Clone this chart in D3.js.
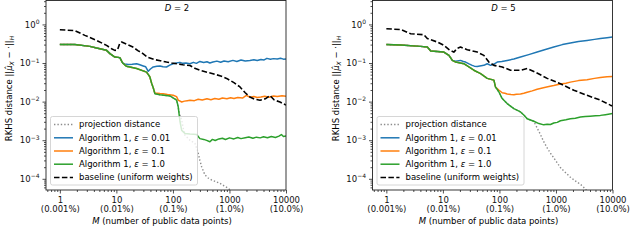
<!DOCTYPE html>
<html>
<head>
<meta charset="utf-8">
<script src="https://cdn.jsdelivr.net/npm/d3@7"></script>
<style>
  body { margin: 0; background: #fff; }
  svg { display: block; font-family: 'DejaVu Sans', sans-serif; }
</style>
</head>
<body>
<div class="container"></div>
<script>
/* globals d3 */

// tick labels
const xMajor = [1, 10, 100, 1000, 10000]
const xTickTop = ['1', '10', '100', '1000', '10000']
const xTickBottom = ['(0.001%)', '(0.01%)', '(0.1%)', '(1.0%)', '(10.0%)']
const yMajor = [1, 0.1, 0.01, 0.001, 0.0001]
const yTickExp = ['0', '\u22121', '\u22122', '\u22123', '\u22124']
const panelTitles = ['2', '5']
const legendLabels = ['projection distance', 'Algorithm 1, ', 'Algorithm 1, ', 'Algorithm 1, ', 'baseline (uniform weights)']
const legendEps = [null, ' = 0.01', ' = 0.1', ' = 1.0', null]

// D = 2, pairs of [M, distance]
const d2Projection = [[1, 0.304], [1.84, 0.30], [3.4, 0.27], [4.46, 0.244], [6.7, 0.213], [7.7, 0.175], [9.4, 0.143], [11.5, 0.138], [12.9, 0.1], [15.1, 0.082], [22.8, 0.072], [34.2, 0.058], [39, 0.044], [42, 0.030], [44.8, 0.023], [48, 0.016], [59, 0.015], [88.5, 0.014], [116, 0.011], [124, 0.007], [133, 0.0045], [143, 0.0033], [155, 0.0018], [163, 0.00135], [200, 0.001], [245, 0.00083], [265, 0.0006], [280, 0.00046], [300, 0.0003], [322, 0.000205], [368, 0.000126], [420, 0.000105], [484, 0.000093], [580, 0.000084], [679, 0.000076], [800, 0.000066], [952, 0.000057], [1100, 0.000046], [1400, 0.000035]]
const d2Eps001 = [[1, 0.304], [1.84, 0.30], [3.4, 0.27], [4.46, 0.244], [6.7, 0.213], [7.7, 0.175], [9.4, 0.143], [11.5, 0.138], [12.9, 0.1], [14, 0.095], [16.2, 0.091], [19, 0.093], [22.8, 0.096], [26, 0.09], [29.8, 0.084], [33, 0.08], [36.6, 0.061], [40, 0.07], [44.8, 0.079], [52, 0.083], [59, 0.084], [67, 0.08], [77, 0.079], [88, 0.088], [101, 0.096], [115, 0.1], [133, 0.104], [150, 0.098], [170, 0.1], [200, 0.096], [230, 0.104], [260, 0.098], [300, 0.11], [350, 0.103], [400, 0.108], [450, 0.1], [510, 0.106], [600, 0.112], [700, 0.105], [800, 0.113], [950, 0.108], [1150, 0.117], [1350, 0.11], [1600, 0.12], [1900, 0.113], [2300, 0.117], [2700, 0.122], [3100, 0.116], [3600, 0.124], [4100, 0.12], [4600, 0.132], [5300, 0.126], [6000, 0.13], [7000, 0.127], [8000, 0.133], [9000, 0.126], [10000, 0.128]]
const d2Eps01 = [[1, 0.304], [1.84, 0.30], [3.4, 0.27], [4.46, 0.244], [6.7, 0.213], [7.7, 0.175], [9.4, 0.143], [11.5, 0.138], [12.9, 0.1], [15.1, 0.082], [22.8, 0.072], [34.2, 0.058], [39, 0.044], [42, 0.030], [44.8, 0.023], [48, 0.0167], [59, 0.0162], [67, 0.016], [80, 0.0152], [101, 0.0146], [116, 0.0135], [124, 0.0109], [143, 0.0098], [160, 0.0103], [180, 0.0106], [200, 0.0109], [240, 0.0106], [280, 0.0115], [330, 0.011], [400, 0.0118], [470, 0.0112], [550, 0.012], [650, 0.0115], [750, 0.0124], [900, 0.0118], [1050, 0.0126], [1200, 0.012], [1400, 0.0128], [1700, 0.0124], [1990, 0.0145], [2300, 0.013], [2700, 0.0135], [3100, 0.0128], [3600, 0.0132], [4200, 0.0138], [5000, 0.013], [6000, 0.014], [7000, 0.0135], [8500, 0.0142], [10000, 0.0138]]
const d2Eps1 = [[1, 0.304], [1.84, 0.30], [3.4, 0.27], [4.46, 0.244], [6.7, 0.213], [7.7, 0.175], [9.4, 0.143], [11.5, 0.138], [12.9, 0.1], [15.1, 0.082], [22.8, 0.072], [34.2, 0.058], [39, 0.044], [42, 0.030], [44.8, 0.023], [48, 0.016], [59, 0.015], [88.5, 0.014], [116, 0.011], [124, 0.0074], [133, 0.0031], [143, 0.0018], [163, 0.0015], [200, 0.00145], [263, 0.0014], [300, 0.0011], [350, 0.00105], [395, 0.00099], [451, 0.00091], [500, 0.00105], [560, 0.00098], [650, 0.00108], [750, 0.00112], [850, 0.00104], [1000, 0.00115], [1200, 0.00108], [1400, 0.00118], [1600, 0.0011], [1900, 0.00116], [2200, 0.00121], [2600, 0.00112], [3000, 0.0012], [3500, 0.00115], [4000, 0.00123], [4700, 0.00116], [5500, 0.00125], [6500, 0.00118], [7500, 0.00128], [8300, 0.0014], [9000, 0.00125], [10000, 0.00128]]
const d2Baseline = [[1, 0.73], [1.84, 0.69], [2.77, 0.52], [4.46, 0.386], [6.7, 0.286], [8.2, 0.235], [9.4, 0.213], [10.5, 0.22], [11.5, 0.329], [12.4, 0.349], [15, 0.31], [19.6, 0.259], [24, 0.21], [29.5, 0.175], [36, 0.14], [48, 0.122], [60, 0.115], [77, 0.106], [95, 0.1], [116, 0.096], [150, 0.09], [200, 0.086], [250, 0.072], [300, 0.065], [400, 0.058], [510, 0.053], [700, 0.046], [890, 0.040], [1200, 0.031], [1535, 0.024], [1900, 0.017], [2300, 0.0132], [2800, 0.0115], [3470, 0.0109], [4300, 0.0118], [5200, 0.0144], [6200, 0.011], [7830, 0.0098], [10000, 0.0081]]

// D = 5
const d5Projection = [[1, 0.30], [1.79, 0.295], [4, 0.27], [5.3, 0.26], [6.1, 0.204], [10.4, 0.192], [12.8, 0.158], [14.7, 0.117], [16.8, 0.106], [23.5, 0.096], [28.8, 0.079], [35.3, 0.065], [46.4, 0.053], [60.8, 0.040], [80, 0.036], [85, 0.024], [97.5, 0.018], [112, 0.012], [137, 0.0089], [180, 0.0066], [236, 0.0054], [270, 0.0045], [310, 0.0036], [405, 0.0031], [470, 0.002], [532, 0.0014], [600, 0.00095], [700, 0.00063], [800, 0.00046], [914, 0.00035], [1050, 0.00026], [1200, 0.000195], [1374, 0.00016], [1800, 0.00011], [2200, 0.000088], [2710, 0.000072], [3100, 0.00006], [3550, 0.000048], [4500, 0.000035]]
const d5Eps001 = [[1, 0.30], [1.79, 0.295], [4, 0.27], [5.3, 0.26], [6.1, 0.204], [10.4, 0.192], [12.8, 0.158], [14.7, 0.117], [16.8, 0.112], [20.5, 0.117], [23, 0.11], [25.2, 0.106], [29, 0.095], [33, 0.087], [36, 0.083], [40.5, 0.081], [45, 0.084], [53, 0.087], [60.8, 0.096], [70, 0.087], [80, 0.094], [91.5, 0.106], [110, 0.11], [137, 0.117], [180, 0.127], [236, 0.143], [330, 0.165], [465, 0.192], [650, 0.225], [914, 0.259], [1300, 0.3], [1800, 0.33], [2500, 0.36], [3550, 0.386], [4800, 0.41], [6100, 0.43], [8000, 0.45], [10000, 0.47]]
const d5Eps01 = [[1, 0.30], [1.79, 0.295], [4, 0.27], [5.3, 0.26], [6.1, 0.204], [10.4, 0.192], [12.8, 0.158], [14.7, 0.117], [16.8, 0.106], [23.5, 0.096], [28.8, 0.079], [35.3, 0.065], [46.4, 0.053], [60.8, 0.040], [80, 0.036], [85, 0.024], [97.5, 0.02], [112, 0.017], [125, 0.0165], [137, 0.0158], [160, 0.0152], [180, 0.015], [200, 0.0155], [236, 0.0157], [270, 0.0165], [310, 0.0175], [380, 0.019], [465, 0.021], [600, 0.023], [750, 0.0245], [914, 0.026], [1200, 0.0285], [1500, 0.03], [1800, 0.032], [2500, 0.035], [3550, 0.037], [4800, 0.04], [6100, 0.042], [8000, 0.044], [10000, 0.045]]
const d5Eps1 = [[1, 0.30], [1.79, 0.295], [4, 0.27], [5.3, 0.26], [6.1, 0.204], [10.4, 0.192], [12.8, 0.158], [14.7, 0.117], [16.8, 0.106], [23.5, 0.096], [28.8, 0.079], [35.3, 0.065], [46.4, 0.053], [60.8, 0.040], [80, 0.036], [85, 0.024], [97.5, 0.018], [112, 0.012], [137, 0.0089], [180, 0.0066], [236, 0.0054], [270, 0.0045], [310, 0.0036], [405, 0.0031], [500, 0.0027], [608, 0.0025], [700, 0.0026], [800, 0.00255], [914, 0.0028], [1050, 0.0029], [1200, 0.0032], [1500, 0.0034], [1800, 0.0036], [2200, 0.0037], [2710, 0.004], [3300, 0.0041], [4000, 0.0042], [5000, 0.0043], [6100, 0.0044], [7500, 0.0046], [10000, 0.0049]]
const d5Baseline = [[1, 0.77], [1.79, 0.74], [2.69, 0.575], [4.6, 0.54], [5.3, 0.43], [7.96, 0.35], [10.4, 0.287], [13, 0.22], [15.6, 0.192], [18, 0.24], [20.5, 0.259], [27, 0.222], [40.5, 0.192], [53, 0.158], [65, 0.106], [80, 0.087], [112, 0.079], [157, 0.065], [236, 0.065], [310, 0.072], [434, 0.058], [700, 0.040], [1200, 0.029], [2070, 0.0197], [3550, 0.0146], [6100, 0.0109], [9180, 0.0081], [10000, 0.0077]]

const seriesColors = ['#8c8c8c', '#1f77b4', '#ff7f0e', '#2ca02c', '#000000']
const seriesDash = ['1.4,2', null, null, null, '5.5,2.4']
const seriesWidth = [1.4, 1.5, 1.5, 1.5, 1.6]

var width = 240
var height = 189.5
var fontSize = 8.5

var svg = d3.select('.container')
            .append('svg')
            .attr('width', 640)
            .attr('height', 242)

drawPanel(46, 0, panelTitles[0], [d2Projection, d2Eps001, d2Eps01, d2Eps1, d2Baseline])
drawPanel(372.5, 1, panelTitles[1], [d5Projection, d5Eps001, d5Eps01, d5Eps1, d5Baseline])

function drawPanel (x0, idx, title, series) {
  var g = svg.append('g')
             .attr('transform', 'translate(' + x0 + ',0.5)')

  var xScale = d3.scaleLog()
                 .domain([Math.pow(10, -0.245), 10000])
                 .range([0, width])
  var yScale = d3.scaleLog()
                 .domain([Math.pow(10, -4.29), Math.pow(10, 0.62)])
                 .range([height, 0])

  var xMinor = []
  var yMinor = []
  for (var e = -5; e <= 4; e++) {
    for (var k = 2; k <= 9; k++) {
      var v = k * Math.pow(10, e)
      if (v >= xScale.domain()[0] && v <= 10000) xMinor.push(v)
      if (v >= yScale.domain()[0] && v <= yScale.domain()[1]) yMinor.push(v)
    }
  }

  g.append('clipPath')
   .attr('id', 'clip' + idx)
   .append('rect')
   .attr('width', width)
   .attr('height', height)

  // lines
  var valueline = d3.line()
                    .x(function (d) { return xScale(d[0]) })
                    .y(function (d) { return yScale(d[1]) })

  var lines = g.append('g').attr('clip-path', 'url(#clip' + idx + ')')
  series.forEach(function (s, i) {
    lines.append('path')
         .attr('d', valueline(s))
         .attr('fill', 'none')
         .attr('stroke', seriesColors[i])
         .attr('stroke-width', seriesWidth[i])
         .attr('stroke-dasharray', seriesDash[i])
         .attr('stroke-linejoin', 'round')
  })

  // x axis
  g.append('g')
   .attr('transform', 'translate(0,' + height + ')')
   .call(d3.axisBottom(xScale).tickValues(xMinor).tickSize(2).tickFormat(''))
   .call(styleAxis)

  var xAx = g.append('g')
             .attr('transform', 'translate(0,' + height + ')')
             .call(d3.axisBottom(xScale)
                     .tickValues(xMajor)
                     .tickSize(3.5)
                     .tickPadding(3)
                     .tickFormat(function (d, i) { return xTickTop[i] }))
             .call(styleAxis)
  xAx.selectAll('.tick text').each(function (d, i) {
    d3.select(this).append('tspan')
      .attr('x', 0)
      .attr('dy', '1.12em')
      .text(xTickBottom[i])
  })

  // y axis
  g.append('g')
   .call(d3.axisLeft(yScale).tickValues(yMinor).tickSize(2).tickFormat(''))
   .call(styleAxis)

  var yAx = g.append('g')
             .call(d3.axisLeft(yScale)
                     .tickValues(yMajor)
                     .tickSize(3.5)
                     .tickPadding(3)
                     .tickFormat(function () { return '10' }))
             .call(styleAxis)
  yAx.selectAll('.tick text').each(function (d, i) {
    d3.select(this).append('tspan')
      .attr('dy', -3.6)
      .attr('font-size', 6)
      .text(yTickExp[i])
  })

  // spines
  g.append('rect')
   .attr('width', width)
   .attr('height', height)
   .attr('fill', 'none')
   .attr('stroke', '#222')
   .attr('stroke-width', 0.9)

  // title
  var t = g.append('text')
           .attr('x', 131)
           .attr('y', 10)
           .attr('text-anchor', 'middle')
           .attr('font-size', fontSize)
  t.append('tspan').attr('font-style', 'italic').text('D')
  t.append('tspan').text(' = ' + title)

  // axis labels
  var xl = g.append('text')
            .attr('x', width / 2 - 4)
            .attr('y', 223)
            .attr('text-anchor', 'middle')
            .attr('font-size', fontSize)
  xl.append('tspan').attr('font-style', 'italic').text('M')
  xl.append('tspan').text(' (number of public data points)')

  var yl = g.append('text')
            .attr('transform', 'translate(-34,88) rotate(-90)')
            .attr('text-anchor', 'middle')
            .attr('font-size', fontSize)
  yl.append('tspan').text('RKHS distance ||')
  yl.append('tspan').attr('font-style', 'italic').text('\u03bc\u0302')
  yl.append('tspan').attr('font-style', 'italic').attr('font-size', 6).attr('dy', 2).text('X')
  yl.append('tspan').attr('dy', -2).text(' \u2212 \u00b7||')
  yl.append('tspan').attr('font-style', 'italic').attr('font-size', 6).attr('dy', 2).text('H')

  // legend
  var legend = g.append('g')
                .attr('transform', 'translate(4.5,116)')
  legend.append('rect')
        .attr('width', 147)
        .attr('height', 68.5)
        .attr('rx', 2)
        .attr('fill', '#fff')
        .attr('fill-opacity', 0.8)
        .attr('stroke', '#cccccc')
        .attr('stroke-width', 0.8)

  var rowY = [8, 21.3, 34.5, 47.7, 61]
  legendLabels.forEach(function (label, i) {
    var row = legend.append('g')
                    .attr('transform', 'translate(0,' + rowY[i] + ')')
    row.append('line')
       .attr('x1', 3.5)
       .attr('x2', 22.5)
       .attr('stroke', seriesColors[i])
       .attr('stroke-width', seriesWidth[i])
       .attr('stroke-dasharray', seriesDash[i])
    var txt = row.append('text')
                 .attr('x', 28.5)
                 .attr('dy', '0.35em')
                 .attr('font-size', fontSize)
                 .text(label)
    if (legendEps[i]) {
      txt.append('tspan').attr('font-style', 'italic').text('\u03b5')
      txt.append('tspan').text(legendEps[i])
    }
  })
}

function styleAxis (sel) {
  sel.select('.domain').remove()
  sel.attr('font-family', null)
     .attr('font-size', fontSize)
  sel.selectAll('.tick line')
     .attr('stroke', '#222')
     .attr('stroke-width', 0.8)
  sel.selectAll('.tick text')
     .attr('fill', '#111')
}
</script>
</body>
</html>
